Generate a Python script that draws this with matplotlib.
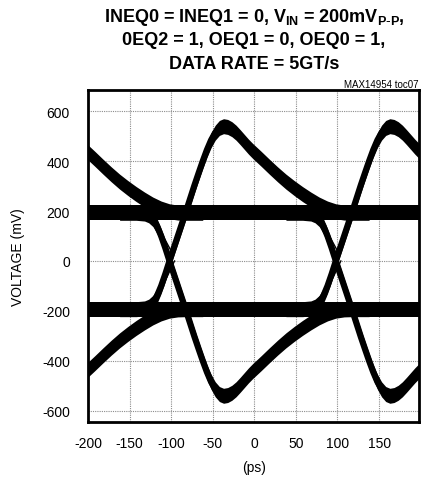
"""
Eye diagram, MAX14954 toc07: INEQ0 = INEQ1 = 0, VIN = 200mVp-p, 5GT/s
"""
import matplotlib
matplotlib.use("Agg")
import matplotlib.pyplot as plt
import numpy as np

# axis ticks
x_ticks = [-200, -150, -100, -50, 0, 50, 100, 150]
y_ticks = [-600, -400, -200, 0, 200, 400, 600]

# zero crossings of the eye (ps)
crossings = [-302, -102, 98]

# one rising edge, time relative to its crossing (ps) / voltage (mV)
rise_t = [-60, -40, -30, -25, -20, -15, -10, -5, 0, 10, 20, 30, 35, 40, 45,
          50, 55, 60, 65, 70, 75, 80, 85, 90, 95, 100, 110, 120, 130, 140,
          150, 160, 170, 180, 190, 200, 210, 220, 240]
rise_v = [-193, -193, -190, -183, -168, -140, -100, -52, 0, 100, 200, 303,
          352, 400, 445, 484, 514, 533, 540, 537, 528, 514, 496, 477, 458,
          441, 410, 378, 347, 318, 292, 268, 246, 226, 210, 199, 194, 193, 193]

# settled (de-emphasized) levels
flat_t = [-210, 210]
flat_v = [193, -193]

# thin secondary strands near each crossing
thin_fall_t = [-32, -21, -9, 2]
thin_fall_v = [192, 176, 108, 40]
thin_rise_t = [-28, -19, -3, 6]
thin_rise_v = [-190, -160, -64, 0]

plt.rcParams["font.family"] = ["Liberation Sans", "DejaVu Sans"]
plt.rcParams["axes.unicode_minus"] = False

W, H = 422, 481
fig = plt.figure(figsize=(W / 100, H / 100), dpi=100)
ax = fig.add_axes([88 / W, 1 - 423 / H, (419 - 88) / W, (423 - 91) / H])

band = 30  # half thickness of the noisy traces (mV)

for level in flat_v:
    ax.fill_between(flat_t, level - band, level + band, color="black", lw=0)
    ax.plot(flat_t, [level, level], color="black", lw=4)

for c in crossings:
    t = np.array(rise_t) + c
    for sign in (1, -1):
        v = sign * np.array(rise_v)
        ax.fill_between(t, v - band, v + band, color="black", lw=0)
        ax.plot(t, v, color="black", lw=4.5, solid_joinstyle="round")
    ax.plot(np.array(thin_fall_t) + c, thin_fall_v, color="black", lw=1)
    ax.plot(np.array(thin_rise_t) + c, thin_rise_v, color="black", lw=1)

ax.set_xlim(-200, 198)
ax.set_ylim(-645, 685)
ax.set_xticks(x_ticks)
ax.set_yticks(y_ticks)
ax.tick_params(length=0, labelsize=10)
ax.tick_params(axis="y", pad=13)
ax.tick_params(axis="x", pad=10)
ax.set_axisbelow(True)
ax.grid(True, linestyle=(0, (1, 1)), color="#8c8c8c", lw=0.8)
for s in ax.spines.values():
    s.set_linewidth(2)

# labels
fig.text(254 / W, 1 - 468 / H, "(ps)", ha="center", va="center", fontsize=10)
fig.text(18 / W, 1 - 257 / H, "VOLTAGE (mV)", ha="center", va="center",
         rotation=90, fontsize=10)

# title block
title_lines = [
    r"INEQ0 = INEQ1 = 0, V$_{\mathregular{IN}}$ = 200mV$_{\mathregular{P\text{-}P}}$,",
    "0EQ2 = 1, OEQ1 = 0, OEQ0 = 1,",
    "DATA RATE = 5GT/s",
]
baselines = [22, 45, 69]
for line, yb in zip(title_lines, baselines):
    fig.text(254 / W, 1 - yb / H, line, ha="center", va="baseline",
             fontsize=13, fontweight="bold")
fig.text(418 / W, 1 - 88 / H, "MAX14954 toc07", ha="right", va="baseline",
         fontsize=7)

fig.savefig("out.png", dpi=100)
